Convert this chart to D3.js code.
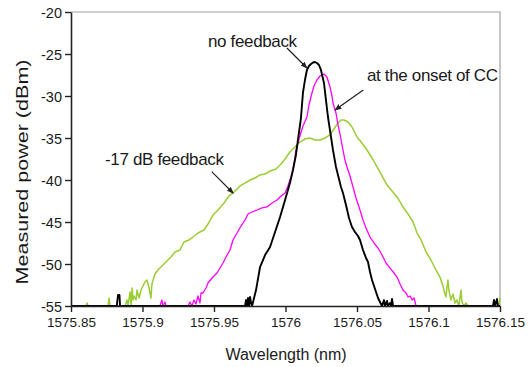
<!DOCTYPE html>
<html><head><meta charset="utf-8">
<script src="https://cdn.jsdelivr.net/npm/d3@7"></script>
<style>
html,body{margin:0;padding:0;background:#fff;}
text{font-family:"Liberation Sans",Arial,sans-serif;fill:#1a1a1a;}
</style></head>
<body>
<svg id="chart" width="529" height="367"></svg>
<script>
// ---- data ----
const xTicks = [1575.85, 1575.9, 1575.95, 1576, 1576.05, 1576.1, 1576.15];
const xTickLabels = ["1575.85","1575.9","1575.95","1576","1576.05","1576.1","1576.15"];
const yTicks = [-55,-50,-45,-40,-35,-30,-25,-20];
const yTickLabels = ["-55","-50","-45","-40","-35","-30","-25","-20"];
const xTitle = "Wavelength (nm)";
const yTitle = "Measured power (dBm)";

const feedback17 = [
[1575.85,-55],[1575.8605,-55],[1575.8612,-54.64],[1575.8619,-55],[1575.8759,-55],[1575.8766,-54.05],[1575.8773,-55],
[1575.8878,-55],[1575.8892,-54.29],[1575.8899,-55],[1575.8913,-53.33],[1575.8920,-55],[1575.8927,-52.86],[1575.8934,-54.29],
[1575.8941,-53.81],[1575.8955,-54.29],[1575.8962,-53.10],[1575.8976,-54.05],[1575.8990,-53.10],[1575.9003,-52.62],
[1575.9017,-52.14],[1575.9031,-51.90],[1575.9045,-52.74],[1575.9059,-54.05],[1575.9066,-52.38],[1575.9087,-51.19],
[1575.9108,-50.71],[1575.9136,-50.24],[1575.9164,-49.76],[1575.9199,-49.17],[1575.9227,-48.57],[1575.9262,-48.33],
[1575.9290,-47.38],[1575.9325,-47.14],[1575.9353,-46.79],[1575.9388,-46.31],[1575.9430,-45.95],[1575.9458,-45.24],
[1575.9493,-44.17],[1575.9528,-43.57],[1575.9570,-42.74],[1575.9605,-41.90],[1575.9640,-41.43],[1575.9682,-40.71],
[1575.9717,-40.36],[1575.9752,-40.00],[1575.9787,-39.76],[1575.9822,-39.40],[1575.9857,-39.29],[1575.9892,-38.93],
[1575.9934,-38.69],[1575.9969,-38.10],[1575.9997,-37.50],[1576.0031,-36.67],[1576.0066,-36.07],[1576.0101,-35.48],
[1576.0136,-35.12],[1576.0171,-35.00],[1576.0206,-35.24],[1576.0241,-35.24],[1576.0276,-35.00],[1576.0311,-34.64],
[1576.0339,-33.93],[1576.0367,-33.21],[1576.0388,-32.86],[1576.0409,-32.86],[1576.0437,-33.10],[1576.0465,-33.69],
[1576.0500,-34.88],[1576.0535,-35.60],[1576.0570,-36.43],[1576.0605,-37.38],[1576.0640,-38.45],[1576.0675,-39.52],
[1576.0710,-40.60],[1576.0745,-41.31],[1576.0780,-42.02],[1576.0822,-43.21],[1576.0857,-44.05],[1576.0892,-45.00],
[1576.0920,-46.31],[1576.0948,-47.14],[1576.0983,-48.57],[1576.1017,-49.52],[1576.1052,-50.71],[1576.1080,-51.55],
[1576.1101,-52.62],[1576.1115,-53.57],[1576.1122,-53.93],[1576.1129,-52.86],[1576.1136,-51.90],[1576.1143,-53.10],
[1576.1157,-54.29],[1576.1171,-53.57],[1576.1185,-54.64],[1576.1199,-54.29],[1576.1213,-55],[1576.1227,-53.10],
[1576.1234,-54.52],[1576.1248,-55],[1576.1262,-54.64],[1576.1276,-55],[1576.1493,-55],[1576.15,-54.05]
];

const onsetCC = [
[1575.85,-55],[1575.9122,-55],[1575.9136,-54.29],[1575.9143,-55],[1575.9157,-54.52],[1575.9164,-55],
[1575.9318,-55],[1575.9332,-54.52],[1575.9346,-55],[1575.9360,-54.29],[1575.9374,-54.76],[1575.9388,-53.81],
[1575.9402,-54.64],[1575.9409,-53.45],[1575.9423,-53.45],[1575.9444,-52.86],[1575.9458,-52.26],[1575.9486,-51.67],
[1575.9521,-51.07],[1575.9542,-50.48],[1575.9563,-49.88],[1575.9584,-49.17],[1575.9612,-48.33],[1575.9633,-47.14],
[1575.9661,-46.31],[1575.9689,-45.48],[1575.9717,-44.76],[1575.9738,-44.05],[1575.9766,-43.81],[1575.9801,-43.57],
[1575.9836,-43.33],[1575.9871,-43.21],[1575.9906,-42.74],[1575.9941,-42.38],[1575.9969,-41.90],[1575.9997,-41.55],
[1576.0017,-40.71],[1576.0031,-40.00],[1576.0045,-39.40],[1576.0059,-38.21],[1576.0073,-36.43],[1576.0087,-35.60],
[1576.0101,-34.76],[1576.0122,-33.57],[1576.0150,-32.50],[1576.0164,-31.07],[1576.0185,-29.64],[1576.0199,-28.81],
[1576.0220,-28.10],[1576.0241,-27.62],[1576.0255,-27.50],[1576.0269,-27.38],[1576.0290,-27.74],[1576.0311,-28.93],
[1576.0325,-30.00],[1576.0332,-30.83],[1576.0353,-32.02],[1576.0367,-33.45],[1576.0381,-34.52],[1576.0402,-36.43],
[1576.0416,-37.62],[1576.0430,-38.45],[1576.0451,-39.52],[1576.0472,-40.83],[1576.0493,-42.14],[1576.0521,-43.57],
[1576.0542,-44.76],[1576.0563,-45.71],[1576.0591,-46.79],[1576.0619,-47.50],[1576.0647,-48.10],[1576.0675,-48.93],
[1576.0703,-49.88],[1576.0731,-50.48],[1576.0759,-51.07],[1576.0780,-51.55],[1576.0801,-52.38],[1576.0822,-53.10],
[1576.0843,-53.45],[1576.0857,-53.93],[1576.0871,-53.81],[1576.0885,-54.29],[1576.0899,-54.05],[1576.0913,-55],
[1576.15,-55]
];

const noFeedback = [
[1575.85,-55],[1575.882,-55],[1575.8829,-53.69],[1575.8839,-53.69],[1575.8843,-55],[1575.9717,-55],[1575.9724,-54.29],
[1575.9731,-55],[1575.9738,-54.05],[1575.9745,-55],[1575.9752,-53.93],[1575.9759,-54.64],[1575.9766,-55],
[1575.9794,-53.10],[1575.9822,-50.36],[1575.9857,-48.93],[1575.9892,-47.98],[1575.9927,-46.19],[1575.9962,-44.40],
[1575.9997,-42.38],[1576.0031,-40.36],[1576.0052,-38.81],[1576.0073,-37.02],[1576.0087,-35.24],[1576.0108,-32.62],
[1576.0122,-29.64],[1576.0136,-28.10],[1576.0150,-26.90],[1576.0164,-26.43],[1576.0178,-26.19],[1576.0192,-26.01],
[1576.0206,-25.95],[1576.0220,-26.07],[1576.0234,-26.31],[1576.0248,-26.90],[1576.0269,-28.45],[1576.0283,-30.48],
[1576.0297,-32.50],[1576.0311,-34.05],[1576.0332,-36.43],[1576.0353,-38.45],[1576.0367,-39.40],[1576.0388,-40.83],
[1576.0402,-41.55],[1576.0423,-42.98],[1576.0444,-44.52],[1576.0465,-45.60],[1576.0486,-46.19],[1576.0507,-46.67],
[1576.0521,-47.14],[1576.0542,-48.33],[1576.0563,-49.29],[1576.0577,-49.76],[1576.0591,-50.95],[1576.0605,-51.90],
[1576.0619,-52.62],[1576.0633,-53.33],[1576.0647,-54.05],[1576.0661,-54.52],[1576.0675,-55],[1576.0689,-54.29],
[1576.0696,-55],[1576.0710,-54.40],[1576.0717,-55],[1576.0731,-54.64],[1576.0738,-55],[1576.0745,-54.17],
[1576.0752,-55],[1576.1451,-55],[1576.1458,-54.29],[1576.1465,-55],[1576.1479,-54.17],[1576.1486,-55],[1576.15,-55]
];

const seriesNames = ["-17 dB feedback","at the onset of CC","no feedback"];
const seriesColors = ["#9acd32","#ff00ff","#000000"];
const seriesWidths = [1.5, 1.3, 1.9];

// annotations: label, text anchor [wl, dBm], arrow start, arrow tip
const annoLabels = ["no feedback","at the onset of CC","-17 dB feedback"];
const annoText = [[1575.9458,-24.11],[1576.0570,-28.27],[1575.8738,-38.27]];
const annoFrom = [[1576.0010,-24.29],[1576.0544,-29.29],[1575.9484,-39.01]];
const annoTo   = [[1576.0150,-26.67],[1576.0346,-31.67],[1575.9635,-41.58]];

// ---- chart ----
const svg = d3.select("#chart");
const L = 71, R = 500, T = 12, B = 306;
const x = d3.scaleLinear().domain([1575.85, 1576.15]).range([L, R]);
const y = d3.scaleLinear().domain([-55, -20]).range([B, T]);

// plot frame (grey top/right)
svg.append("path")
  .attr("d", `M${L},${T}H${R}V${B}`)
  .attr("fill","none").attr("stroke","#a0a0a0").attr("stroke-width",1.2);

const line = d3.line().x(d => x(d[0])).y(d => y(d[1]));
[feedback17, onsetCC, noFeedback].forEach((s, i) => {
  svg.append("path").datum(s)
    .attr("d", line)
    .attr("fill","none")
    .attr("stroke", seriesColors[i])
    .attr("stroke-width", seriesWidths[i])
    .attr("stroke-linejoin","round");
});

// axes
const xAxis = d3.axisBottom(x).tickValues(xTicks)
  .tickFormat((d,i) => xTickLabels[i]).tickSizeInner(6).tickSizeOuter(0).tickPadding(5);
const gx = svg.append("g").attr("transform", `translate(0,${B})`).call(xAxis);
const yAxis = d3.axisLeft(y).tickValues(yTicks)
  .tickFormat((d,i) => yTickLabels[i]).tickSizeInner(6).tickSizeOuter(0).tickPadding(3);
const gy = svg.append("g").attr("transform", `translate(${L},0)`).call(yAxis);

[gx, gy].forEach(g => {
  g.select(".domain").attr("stroke","#222").attr("stroke-width",1.6);
  g.selectAll(".tick line").attr("stroke","#222").attr("stroke-width",1.4);
  g.selectAll(".tick text").attr("fill","#1a1a1a")
    .style("font-family",'"Liberation Sans",Arial,sans-serif');
});
gx.selectAll(".tick text").style("font-size","13.5px");
gy.selectAll(".tick text").style("font-size","14.5px").attr("dy","0.4em");

// axis titles
svg.append("text")
  .attr("x", (L + R) / 2 + 0.5).attr("y", 360)
  .attr("text-anchor","middle").style("font-size","16px")
  .text(xTitle);
svg.append("text")
  .attr("transform", `translate(28,${(T + B) / 2 + 13}) rotate(-90)`)
  .attr("text-anchor","middle").style("font-size","17px")
  .attr("textLength", 225).attr("lengthAdjust","spacingAndGlyphs")
  .text(yTitle);

// arrow marker
svg.append("defs").append("marker")
  .attr("id","arr").attr("viewBox","0 0 10 10")
  .attr("refX",9).attr("refY",5)
  .attr("markerWidth",7).attr("markerHeight",7)
  .attr("markerUnits","userSpaceOnUse")
  .attr("orient","auto")
  .append("path").attr("d","M0,1L10,5L0,9Z").attr("fill","#222");

annoLabels.forEach((lab, i) => {
  svg.append("line")
    .attr("x1", x(annoFrom[i][0])).attr("y1", y(annoFrom[i][1]))
    .attr("x2", x(annoTo[i][0])).attr("y2", y(annoTo[i][1]))
    .attr("stroke","#222").attr("stroke-width",1.2)
    .attr("marker-end","url(#arr)");
  svg.append("text")
    .attr("x", x(annoText[i][0])).attr("y", y(annoText[i][1]))
    .style("font-size","17px").style("letter-spacing","-0.35px")
    .text(lab);
});
</script>
</body></html>
